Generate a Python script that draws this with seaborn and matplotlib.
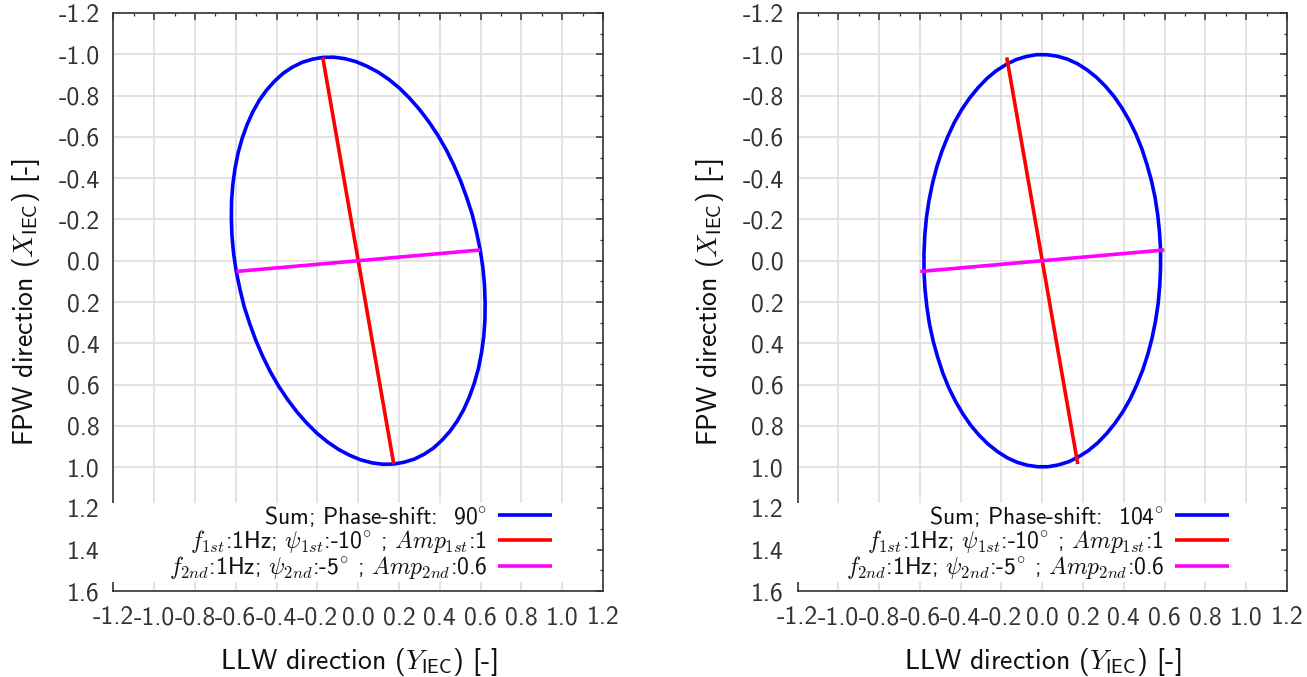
import matplotlib
matplotlib.use("Agg")
import matplotlib.pyplot as plt
import seaborn as sns
import pandas as pd
from matplotlib.patches import Rectangle
from matplotlib.ticker import MultipleLocator

# ---------------- data ----------------
# Horizontal axis: LLW direction (Y_IEC); vertical axis: FPW direction (X_IEC)
# Resultant orbit, phase-shift 90 deg (left panel)
sum90_llw = [0.174, 0.121, 0.067, 0.013, -0.041, -0.095, -0.149, -0.201, -0.251,
             -0.300, -0.346, -0.390, -0.431, -0.468, -0.502, -0.532, -0.559, -0.580,
             -0.598, -0.611, -0.619, -0.622, -0.621, -0.615, -0.604, -0.589, -0.569,
             -0.545, -0.517, -0.485, -0.449, -0.410, -0.368, -0.322, -0.275, -0.225,
             -0.174, -0.121, -0.067, -0.013, 0.041, 0.095, 0.149, 0.201, 0.251,
             0.300, 0.346, 0.390, 0.431, 0.468, 0.502, 0.532, 0.559, 0.580,
             0.598, 0.611, 0.619, 0.622, 0.621, 0.615, 0.604, 0.589, 0.569,
             0.545, 0.517, 0.485, 0.449, 0.410, 0.368, 0.322, 0.275, 0.225, 0.174]
sum90_fpw = [0.985, 0.986, 0.979, 0.965, 0.943, 0.915, 0.879, 0.837, 0.788,
             0.733, 0.673, 0.608, 0.538, 0.464, 0.386, 0.305, 0.223, 0.138,
             0.052, -0.034, -0.120, -0.204, -0.288, -0.369, -0.447, -0.522, -0.593,
             -0.659, -0.721, -0.777, -0.827, -0.870, -0.908, -0.938, -0.961, -0.976,
             -0.985, -0.986, -0.979, -0.965, -0.943, -0.915, -0.879, -0.837, -0.788,
             -0.733, -0.673, -0.608, -0.538, -0.464, -0.386, -0.305, -0.223, -0.138,
             -0.052, 0.034, 0.120, 0.204, 0.288, 0.369, 0.447, 0.522, 0.593,
             0.659, 0.721, 0.777, 0.827, 0.870, 0.908, 0.938, 0.961, 0.976, 0.985]

# Resultant orbit, phase-shift 104 deg (right panel)
sum104_llw = [0.029, -0.022, -0.072, -0.122, -0.171, -0.219, -0.265, -0.309, -0.351,
              -0.390, -0.426, -0.459, -0.488, -0.513, -0.535, -0.553, -0.566, -0.575,
              -0.580, -0.580, -0.576, -0.568, -0.555, -0.538, -0.517, -0.492, -0.463,
              -0.431, -0.395, -0.356, -0.315, -0.271, -0.226, -0.178, -0.129, -0.079,
              -0.029, 0.022, 0.072, 0.122, 0.171, 0.219, 0.265, 0.309, 0.351,
              0.390, 0.426, 0.459, 0.488, 0.513, 0.535, 0.553, 0.566, 0.575,
              0.580, 0.580, 0.576, 0.568, 0.555, 0.538, 0.517, 0.492, 0.463,
              0.431, 0.395, 0.356, 0.315, 0.271, 0.226, 0.178, 0.129, 0.079, 0.029]
sum104_fpw = [0.998, 0.998, 0.991, 0.977, 0.955, 0.925, 0.889, 0.846, 0.797,
              0.741, 0.680, 0.614, 0.543, 0.467, 0.389, 0.307, 0.223, 0.137,
              0.051, -0.036, -0.123, -0.209, -0.294, -0.376, -0.455, -0.531, -0.602,
              -0.670, -0.732, -0.788, -0.838, -0.883, -0.920, -0.950, -0.974, -0.989,
              -0.998, -0.998, -0.991, -0.977, -0.955, -0.925, -0.889, -0.846, -0.797,
              -0.741, -0.680, -0.614, -0.543, -0.467, -0.389, -0.307, -0.223, -0.137,
              -0.051, 0.036, 0.123, 0.209, 0.294, 0.376, 0.455, 0.531, 0.602,
              0.670, 0.732, 0.788, 0.838, 0.883, 0.920, 0.950, 0.974, 0.989, 0.998]

# First component (amplitude 1, -10 deg) and second component (amplitude 0.6, -5 deg)
first_llw = [-0.174, 0.174]
first_fpw = [-0.985, 0.985]
second_llw = [-0.598, 0.598]
second_fpw = [0.052, -0.052]

phase_shifts = ["90", "104"]
xtick_labels = ["-1.2", "-1.0", "-0.8", "-0.6", "-0.4", "-0.2", "0.0",
                "0.2", "0.4", "0.6", "0.8", "1.0", "1.2"]
ytick_labels = ["-1.2", "-1.0", "-0.8", "-0.6", "-0.4", "-0.2", "0.0",
                "0.2", "0.4", "0.6", "0.8", "1.0", "1.2", "1.4", "1.6"]

label_first = r"$f_{1st}$:1Hz; $\psi_{1st}$:-10$^{\circ}$ ; $Amp_{1st}$:1"
label_second = r"$f_{2nd}$:1Hz; $\psi_{2nd}$:-5$^{\circ}$ ; $Amp_{2nd}$:0.6"

# ---------------- style ----------------
sns.set_theme(style="white")
plt.rcParams["font.family"] = ["cmss10", "DejaVu Sans"]
plt.rcParams["mathtext.fontset"] = "cm"
plt.rcParams["axes.unicode_minus"] = False

fig = plt.figure(figsize=(13.07, 6.77), dpi=100)
axes_rects = [[0.0868, 0.127, 0.3746, 0.8538], [0.6102, 0.127, 0.3745, 0.8538]]
ellipses = [(sum90_llw, sum90_fpw), (sum104_llw, sum104_fpw)]
legend_anchor_x = [0.896, 0.8815]
LW = 2.6

for i, rect in enumerate(axes_rects):
    ax = fig.add_axes(rect)
    e_llw, e_fpw = ellipses[i]
    df_sum = pd.DataFrame({"llw": e_llw, "fpw": e_fpw})
    df_first = pd.DataFrame({"llw": first_llw, "fpw": first_fpw})
    df_second = pd.DataFrame({"llw": second_llw, "fpw": second_fpw})

    sns.lineplot(data=df_sum, x="llw", y="fpw", sort=False, estimator=None,
                 color="#0000ff", linewidth=LW, ax=ax,
                 label="Sum; Phase-shift:  " + phase_shifts[i] + r"$^{\circ}$")
    sns.lineplot(data=df_first, x="llw", y="fpw", sort=False, estimator=None,
                 color="#ff0000", linewidth=LW, ax=ax, label=label_first)
    sns.lineplot(data=df_second, x="llw", y="fpw", sort=False, estimator=None,
                 color="#ff00ff", linewidth=LW, ax=ax, label=label_second)
    for ln in ax.get_lines():
        ln.set_solid_joinstyle("round")
        ln.set_solid_capstyle("butt")

    ax.set_xlim(-1.2, 1.2)
    ax.set_ylim(1.6, -1.2)
    ax.set_xticks([float(s) for s in xtick_labels])
    ax.set_xticklabels(xtick_labels)
    ax.set_yticks([float(s) for s in ytick_labels])
    ax.set_yticklabels(ytick_labels)
    ax.xaxis.set_minor_locator(MultipleLocator(0.1))
    ax.yaxis.set_minor_locator(MultipleLocator(0.1))
    ax.tick_params(which="major", direction="in", length=5, width=1.1,
                   top=True, right=True, labelsize=18.5, colors="#333333")
    ax.tick_params(axis="x", which="major", pad=11)
    ax.tick_params(axis="y", which="major", pad=10)
    ax.tick_params(which="minor", direction="in", length=2.5, width=0.9,
                   top=True, right=True, colors="#333333")
    ax.grid(True, which="major", color="#dedede", linewidth=1.2)
    ax.set_axisbelow(True)
    for sp in ax.spines.values():
        sp.set_color("#333333")
        sp.set_linewidth(1.2)
        sp.set_visible(True)

    ax.set_xlabel(r"LLW direction ($Y_{\mathsf{IEC}}$) [-]", fontsize=20,
                  color="#111111", labelpad=12)
    ax.set_ylabel(r"FPW direction ($X_{\mathsf{IEC}}$) [-]", fontsize=20,
                  color="#111111", labelpad=12)

    # opaque key area (hides grid under the legend)
    ax.add_patch(Rectangle((-0.012, 0.0156), 1.0, 0.1366, transform=ax.transAxes,
                           facecolor="white", edgecolor="none", zorder=3,
                           clip_on=False))

    leg = ax.legend(loc="lower right", bbox_to_anchor=(legend_anchor_x[i], 0.017),
                    frameon=False, fontsize=17, markerfirst=False,
                    handlelength=2.29, handletextpad=0.45, labelspacing=-0.03,
                    borderpad=0, borderaxespad=0)
    leg.set_zorder(5)
    for t in leg.get_texts():
        t.set_color("#111111")

fig.savefig("out.png", dpi=100)
